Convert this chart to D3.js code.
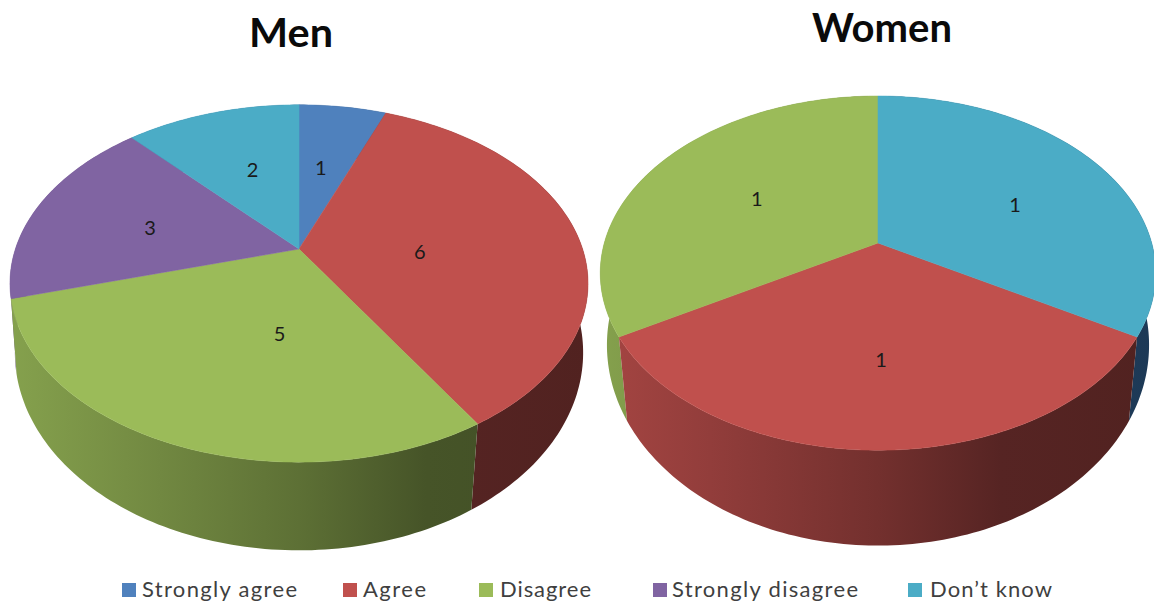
<!DOCTYPE html>
<html>
<head>
<meta charset="utf-8">
<style>
  html, body { margin: 0; padding: 0; background: #fff; }
  svg { display: block; }
  text { font-family: Lato, "Open Sans", sans-serif; }
</style>
<script src="https://cdnjs.cloudflare.com/ajax/libs/d3/7.8.5/d3.min.js"></script>
</head>
<body>
<svg id="chart" width="1154" height="603"></svg>
<script>
// Survey answers
const categories = ["Strongly agree", "Agree", "Disagree", "Strongly disagree", "Don\u2019t know"];
const menValues = [1, 6, 5, 3, 2];
const womenValues = [0, 1, 1, 0, 1];

// Appearance
const sliceColors = ["#4f81bd", "#c0504d", "#9bbb59", "#8064a2", "#4bacc6"];
const sideColors = [null, null, null, null, "#4488cc"];
const sideShade = [[0, 0.86], [0.2, 0.76], [0.5, 0.6], [0.72, 0.45], [1, 0.42]];

// Legend layout: swatch left edge, label left edge, label width
const legendSwatchX = [122, 343, 479, 653, 908];
const legendTextX = [142, 363, 500, 672, 930];
const legendTextW = [155, 63, 91, 186, 122];

// Perspective parameters for each disc: the top face and the lower rim
const pies = [
  {
    id: "men", title: "Men", titleX: 291, titleY: 47, titleW: 84,
    values: menValues, start: 0,
    cx: 299,
    labelRadii: [0.525, 0.425, 0.455, 0.552, 0.534],
    labelTurnDeg: [-1.3, 7.6, -13.3, -2.9, 1.5],
    top: { y0: 249, a: 172, b: 283.6, k: 0.193 },
    rim: { y0: 319, a: 192, b: 280, k: 0.17 }
  },
  {
    id: "women", title: "Women", titleX: 882, titleY: 42, titleW: 140,
    values: womenValues, start: 2 * Math.PI / 3,
    cx: 878,
    labelRadii: [0, 0.61, 0.534, 0, 0.569],
    labelTurnDeg: [0, -0.9, 0, 0, 6.1],
    top: { y0: 243, a: 172, b: 273.7, k: 0.17 },
    rim: { y0: 315, a: 196, b: 268, k: 0.15 }
  }
];

const svg = d3.select("#chart");
const defs = svg.append("defs");

// Projects a point on a tilted disc (polar angle clockwise from north, r in 0..1) to the screen.
function project(plane, cx, angle, r = 1) {
  const u = r * Math.sin(angle), v = r * Math.cos(angle);
  const w = 1 + plane.k * v;
  return [cx + plane.b * u / w, plane.y0 - plane.a * v / w];
}

function arcPoints(plane, cx, a0, a1) {
  const n = Math.max(2, Math.ceil(Math.abs(a1 - a0) / 0.02));
  return d3.range(n + 1).map(i => project(plane, cx, a0 + (a1 - a0) * i / n));
}

const outline = d3.line();

pies.forEach(p => {
  const arcs = d3.pie().sort(null).startAngle(p.start).endAngle(p.start + 2 * Math.PI)(p.values)
    .filter(d => d.value > 0);
  const g = svg.append("g").attr("class", p.id);

  // Horizontal lighting across the wall of the disc
  const left = p.cx - p.top.b * 1.02, right = p.cx + p.top.b * 1.02;
  arcs.forEach(d => {
    const grad = defs.append("linearGradient")
      .attr("id", `side-${p.id}-${d.index}`)
      .attr("gradientUnits", "userSpaceOnUse")
      .attr("x1", left).attr("x2", right).attr("y1", 0).attr("y2", 0);
    sideShade.forEach(([t, s]) => {
      const c = d3.rgb(sideColors[d.index] || sliceColors[d.index]);
      grad.append("stop").attr("offset", t)
        .attr("stop-color", d3.rgb(c.r * s, c.g * s, c.b * s).formatHex());
    });
  });

  // Walls first, farthest ones painted before the nearer ones
  const wallOrder = arcs.slice().sort((a, b) =>
    Math.cos((b.startAngle + b.endAngle) / 2) - Math.cos((a.startAngle + a.endAngle) / 2)
  );
  g.selectAll("path.wall").data(wallOrder).join("path")
    .attr("class", "wall")
    .attr("fill", d => `url(#side-${p.id}-${d.index})`)
    .attr("d", d => outline(
      arcPoints(p.top, p.cx, d.startAngle, d.endAngle)
        .concat(arcPoints(p.rim, p.cx, d.endAngle, d.startAngle))
    ) + "Z");

  // Top face
  g.selectAll("path.face").data(arcs).join("path")
    .attr("class", "face")
    .attr("fill", d => sliceColors[d.index])
    .attr("stroke", d => sliceColors[d.index])
    .attr("stroke-width", 0.5)
    .attr("d", d => outline(
      [[p.cx, p.top.y0]].concat(arcPoints(p.top, p.cx, d.startAngle, d.endAngle))
    ) + "Z");

  // Value labels
  g.selectAll("text.value").data(arcs).join("text")
    .attr("class", "value")
    .attr("text-anchor", "middle")
    .attr("font-size", 20)
    .attr("fill", "#1a1a1a")
    .attr("transform", d => {
      const mid = (d.startAngle + d.endAngle) / 2 + p.labelTurnDeg[d.index] * Math.PI / 180;
      const pt = project(p.top, p.cx, mid, p.labelRadii[d.index]);
      return `translate(${pt[0]},${pt[1] + 7})`;
    })
    .text(d => d.value);

  // Title
  g.append("text")
    .attr("x", p.titleX).attr("y", p.titleY)
    .attr("text-anchor", "middle")
    .attr("font-size", 40).attr("font-weight", 700).attr("fill", "#0a0a0a")
    .attr("textLength", p.titleW).attr("lengthAdjust", "spacingAndGlyphs")
    .text(p.title);
});

// Legend
const legend = svg.append("g").attr("class", "legend");
legend.selectAll("rect").data(categories).join("rect")
  .attr("x", (d, i) => legendSwatchX[i]).attr("y", 583)
  .attr("width", 14).attr("height", 14)
  .attr("fill", (d, i) => sliceColors[i]);
legend.selectAll("text").data(categories).join("text")
  .attr("x", (d, i) => legendTextX[i]).attr("y", 597)
  .attr("font-size", 22).attr("fill", "#3f3f3f")
  .attr("textLength", (d, i) => legendTextW[i]).attr("lengthAdjust", "spacing")
  .text(d => d);
</script>
</body>
</html>
